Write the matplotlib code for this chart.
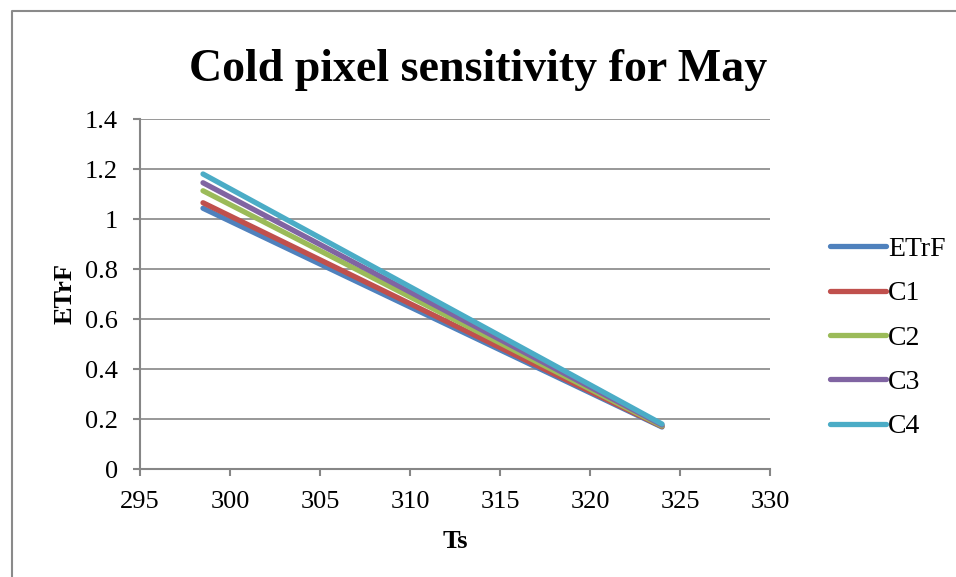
import matplotlib.pyplot as plt
from matplotlib.lines import Line2D

# series values (two end points per line)
ts = [298.5, 324.0]
series_names = ["ETrF", "C1", "C2", "C3", "C4"]
etrf = [1.043, 0.168]
c1 = [1.065, 0.170]
c2 = [1.113, 0.172]
c3 = [1.145, 0.176]
c4 = [1.180, 0.180]
x_ticks = [295, 300, 305, 310, 315, 320, 325, 330]
y_ticks = [0, 0.2, 0.4, 0.6, 0.8, 1, 1.2, 1.4]
y_tick_labels = ["0", "0.2", "0.4", "0.6", "0.8", "1", "1.2", "1.4"]

colors = ["#4F81BD", "#C0504D", "#9BBB59", "#8064A2", "#4BACC6"]
grid_gray = "#868686"

plt.rcParams["font.family"] = ["Liberation Serif", "DejaVu Serif"]

W, H = 956, 577
fig = plt.figure(figsize=(W / 100, H / 100), dpi=100)

# outer chart border (only top/left visible in the reference)
border_x = [12 / W, 12 / W, 1.01]
border_y = [-0.01, 1 - 11 / H, 1 - 11 / H]
fig.lines.append(Line2D(border_x, border_y, transform=fig.transFigure,
                        color="#8a8a8a", linewidth=1.5))

ax = fig.add_axes([140 / W, 1 - 469 / H, 630 / W, 350 / H])

for name, vals, col in zip(series_names, [etrf, c1, c2, c3, c4], colors):
    ax.plot(ts, vals, color=col, linewidth=3.8, solid_capstyle="round", label=name)

ax.set_xlim(295, 330)
ax.set_ylim(0, 1.4)
ax.set_xticks(x_ticks)
ax.set_yticks(y_ticks)
ax.set_yticklabels(y_tick_labels)
ax.tick_params(labelsize=19, color=grid_gray, width=1.5, length=5, direction="out")
ax.tick_params(axis="x", pad=11)
ax.tick_params(axis="y", pad=11)
ax.grid(axis="y", color=grid_gray, linewidth=1.2)
ax.set_axisbelow(True)
for side in ["top", "right"]:
    ax.spines[side].set_visible(False)
for side in ["left", "bottom"]:
    ax.spines[side].set_color(grid_gray)
    ax.spines[side].set_linewidth(1.5)

ax.set_xlabel("Ts", fontsize=19, fontweight="bold", labelpad=12)
ax.set_ylabel("ETrF", fontsize=19, fontweight="bold", labelpad=6)

fig.text(478 / W, 1 - 70 / H, "Cold pixel sensitivity for May", fontsize=33,
         fontweight="bold", ha="center", va="center")

ax.legend(loc="center left", bbox_to_anchor=(830 / W, 1 - 338 / H),
          bbox_transform=fig.transFigure, frameon=False, fontsize=20,
          borderpad=0, borderaxespad=0, handlelength=2.0, handletextpad=0.1,
          labelspacing=0.68)

plt.savefig("out.png", dpi=100)
plt.close(fig)
